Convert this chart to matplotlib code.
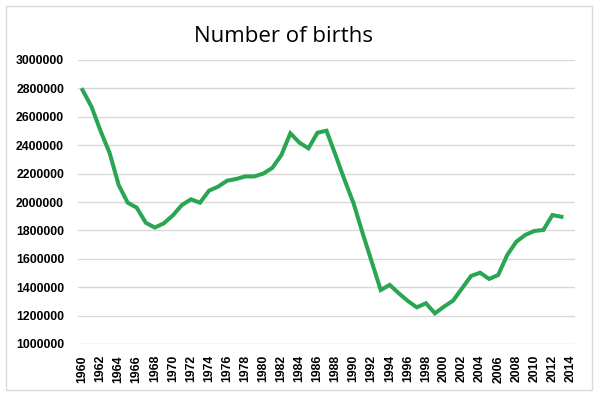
import matplotlib
matplotlib.use("Agg")
import matplotlib.pyplot as plt
import numpy as np

years = list(range(1960, 2014))
births = [2789000, 2670000, 2500000, 2345000, 2120000, 1995000, 1960000, 1854000, 1820000, 1850000,
          1906000, 1979000, 2019000, 1995000, 2080000, 2108000, 2150000, 2162000, 2180000, 2180000,
          2200000, 2240000, 2330000, 2484000, 2418000, 2378000, 2488000, 2502000, 2330000, 2155000,
          1990000, 1780000, 1580000, 1380000, 1416000, 1357000, 1303000, 1258000, 1287000, 1216000,
          1263000, 1305000, 1392000, 1479000, 1502000, 1458000, 1486000, 1627000, 1720000, 1768000,
          1796000, 1803000, 1908000, 1896000]
tick_years = list(range(1960, 2015, 2))
y_ticks = list(range(1000000, 3000001, 200000))

fig = plt.figure(figsize=(6, 3.99), dpi=100)
ax = fig.add_axes([78/600, 1-344/399, (575-78)/600, (344-60)/399])

ax.plot(years, births, color='#2aa552', lw=2.9, solid_joinstyle='miter', zorder=3)

ax.set_xlim(1959.5, 2014.5)
ax.set_ylim(1000000, 3000000)
ax.set_yticks(y_ticks)
ax.set_yticklabels([str(v) for v in y_ticks], fontsize=8.8, fontweight='bold', family='Liberation Sans')
ax.set_xticks(tick_years)
ax.set_xticklabels([str(v) for v in tick_years], rotation=90, fontsize=8.8, fontweight='bold', family='Liberation Sans')
ax.tick_params(axis='y', length=0, pad=10)
ax.tick_params(axis='x', length=0, pad=8)
ax.grid(axis='y', color='#d9d9d9', lw=1)
for s in ax.spines.values():
    s.set_visible(False)
ax.set_axisbelow(True)

fig.text(283/600, 1-36/399, 'Number of births', ha='center', va='center', fontsize=16, family='Open Sans')

rect = plt.Rectangle((6/600, 1-390/399), 586/600, 384/399, transform=fig.transFigure,
                     fill=False, edgecolor='#d9d9d9', lw=1)
fig.patches.append(rect)

fig.savefig('out.png', dpi=100)
